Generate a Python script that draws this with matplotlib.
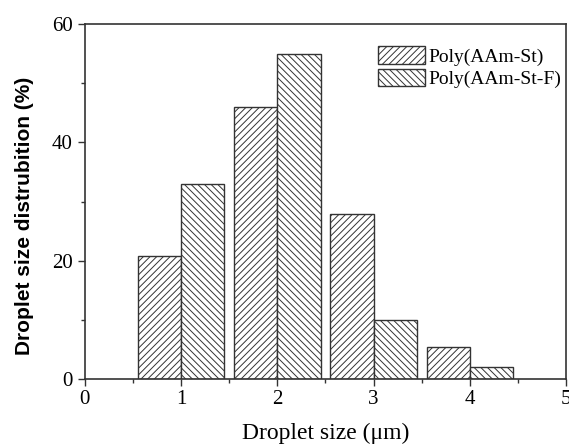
import matplotlib
matplotlib.use("Agg")
import matplotlib.pyplot as plt
import numpy as np

centers = [1, 2, 3, 4]
poly_st = [20.8, 45.9, 27.9, 5.5]
poly_st_f = [33.0, 55.0, 10.0, 2.0]
labels = ["Poly(AAm-St)", "Poly(AAm-St-F)"]

plt.rcParams['hatch.linewidth'] = 0.7
plt.rcParams['font.family'] = ['Liberation Serif', 'DejaVu Serif']

fig = plt.figure(figsize=(5.69, 4.45), dpi=100)
ax = fig.add_axes([0.149, 0.148, 0.846, 0.798])

w = 0.45
x = np.array(centers, dtype=float)
ax.bar(x - w / 2, poly_st, width=w, facecolor='white', edgecolor='#333333',
       hatch='/////', linewidth=1.0, label=labels[0])
ax.bar(x + w / 2, poly_st_f, width=w, facecolor='white', edgecolor='#333333',
       hatch='\\\\\\\\\\', linewidth=1.0, label=labels[1])

ax.set_xlim(0, 5)
ax.set_ylim(0, 60)
ax.set_xticks([0, 1, 2, 3, 4, 5])
ax.set_xticks(np.arange(0.5, 5, 1.0), minor=True)
ax.set_yticks([0, 20, 40, 60])
ax.set_yticks([10, 30, 50], minor=True)
ax.tick_params(axis='both', which='major', direction='out', length=5, width=1,
               labelsize=15, color='#333333')
ax.tick_params(axis='both', which='minor', direction='out', length=3, width=1,
               color='#333333')
ax.tick_params(axis='x', pad=3)
for s in ax.spines.values():
    s.set_linewidth(1.2)
    s.set_color('#333333')

ax.set_xlabel("Droplet size (μm)", fontsize=17, labelpad=10)
ax.set_ylabel("Droplet size distrubition (%)", fontsize=15, fontweight='bold',
              family=['Liberation Sans', 'DejaVu Sans'])
ax.yaxis.set_label_coords(-0.105, 0.46)

leg = ax.legend(loc='upper right', frameon=False, fontsize=14,
                bbox_to_anchor=(1.015, 0.97), handlelength=2.4, handleheight=1.0,
                handletextpad=0.2, labelspacing=0.15, borderaxespad=0.2)

fig.savefig("out.png", dpi=100)
